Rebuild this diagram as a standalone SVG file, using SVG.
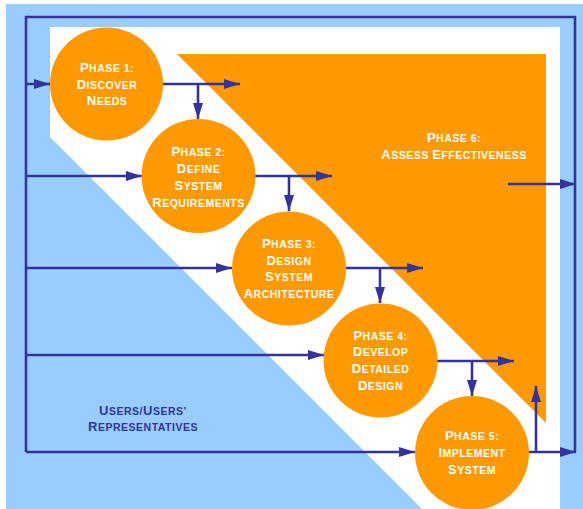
<svg xmlns="http://www.w3.org/2000/svg" width="583" height="509" viewBox="0 0 583 509">
<defs>
<marker id="ah" markerUnits="userSpaceOnUse" markerWidth="17" markerHeight="11" refX="16" refY="5" orient="auto">
<path d="M0,0 L16,5 L0,10 z" fill="#333399"/>
</marker>
<style>
.ln{stroke:#333399;stroke-width:2.6;fill:none}
.ar{stroke:#333399;stroke-width:2.6;fill:none;marker-end:url(#ah)}
.ph{fill:#FF9900}
.t{font-family:"Liberation Sans",Arial,sans-serif;font-weight:bold;font-size:10.5px;letter-spacing:0.5px;text-anchor:middle;fill:#FFFFFF}
.u{fill:#333399}
.c{font-size:13px}
</style>
</defs>
<g id="background">
<rect x="6" y="4" width="577" height="505" fill="#99CCFF"/>
<polygon points="50,27 560,27 560,509 422,509 50,137" fill="#FFFFFF"/>
<polygon points="177,54 546,54 546,423" fill="#FF9900"/>
</g>
<g id="phase6">
<text class="t" x="454" y="142"><tspan class="c">P</tspan>HASE 6:</text>
<text class="t" x="454" y="159"><tspan class="c">A</tspan>SSESS <tspan class="c">E</tspan>FFECTIVENESS</text>
</g>
<g id="users">
<text class="t u" x="143" y="415"><tspan class="c">U</tspan>SERS/<tspan class="c">U</tspan>SERS’</text>
<text class="t u" x="143" y="431"><tspan class="c">R</tspan>EPRESENTATIVES</text>
</g>
<g id="connectors">
<path class="ln" d="M26,452 L26,17 L575,17 L575,452"/>
<path class="ar" d="M26,84 L50,84"/>
<path class="ar" d="M26,176 L142,176"/>
<path class="ar" d="M26,268 L232,268"/>
<path class="ar" d="M26,355 L324,355"/>
<path class="ar" d="M26,452 L415,452"/>
<path class="ar" d="M163,84 L240,84"/>
<path class="ar" d="M198,84 L198,119"/>
<path class="ar" d="M255,176 L332,176"/>
<path class="ar" d="M289,176 L289,211"/>
<path class="ar" d="M346,268 L423,268"/>
<path class="ar" d="M380,268 L380,303"/>
<path class="ar" d="M437,361 L514,361"/>
<path class="ar" d="M472,361 L472,396"/>
<path class="ar" d="M529,452 L576,452"/>
<path class="ar" d="M536,452 L536,386"/>
<path class="ar" d="M508,184 L576,184"/>
</g>
<g id="phase1">
<circle class="ph" cx="106.5" cy="84" r="56.5"/>
<text class="t" x="107" y="72"><tspan class="c">P</tspan>HASE 1:</text>
<text class="t" x="107" y="88.5"><tspan class="c">D</tspan>ISCOVER</text>
<text class="t" x="107" y="105"><tspan class="c">N</tspan>EEDS</text>
</g>
<g id="phase2">
<circle class="ph" cx="198.5" cy="176" r="57"/>
<text class="t" x="198.5" y="155.5"><tspan class="c">P</tspan>HASE 2:</text>
<text class="t" x="198.5" y="172.5"><tspan class="c">D</tspan>EFINE</text>
<text class="t" x="198.5" y="189.5"><tspan class="c">S</tspan>YSTEM</text>
<text class="t" x="198.5" y="206.5"><tspan class="c">R</tspan>EQUIREMENTS</text>
</g>
<g id="phase3">
<circle class="ph" cx="289" cy="268.5" r="57"/>
<text class="t" x="289" y="248"><tspan class="c">P</tspan>HASE 3:</text>
<text class="t" x="289" y="264.5"><tspan class="c">D</tspan>ESIGN</text>
<text class="t" x="289" y="281"><tspan class="c">S</tspan>YSTEM</text>
<text class="t" x="289" y="297.5"><tspan class="c">A</tspan>RCHITECTURE</text>
</g>
<g id="phase4">
<circle class="ph" cx="380.5" cy="360.5" r="57"/>
<text class="t" x="380.5" y="339.5"><tspan class="c">P</tspan>HASE 4:</text>
<text class="t" x="380.5" y="356"><tspan class="c">D</tspan>EVELOP</text>
<text class="t" x="380.5" y="372.5"><tspan class="c">D</tspan>ETAILED</text>
<text class="t" x="380.5" y="389.5"><tspan class="c">D</tspan>ESIGN</text>
</g>
<g id="phase5">
<circle class="ph" cx="472" cy="453" r="57"/>
<text class="t" x="472" y="440"><tspan class="c">P</tspan>HASE 5:</text>
<text class="t" x="472" y="456.5"><tspan class="c">I</tspan>MPLEMENT</text>
<text class="t" x="472" y="473.5"><tspan class="c">S</tspan>YSTEM</text>
</g>
</svg>
